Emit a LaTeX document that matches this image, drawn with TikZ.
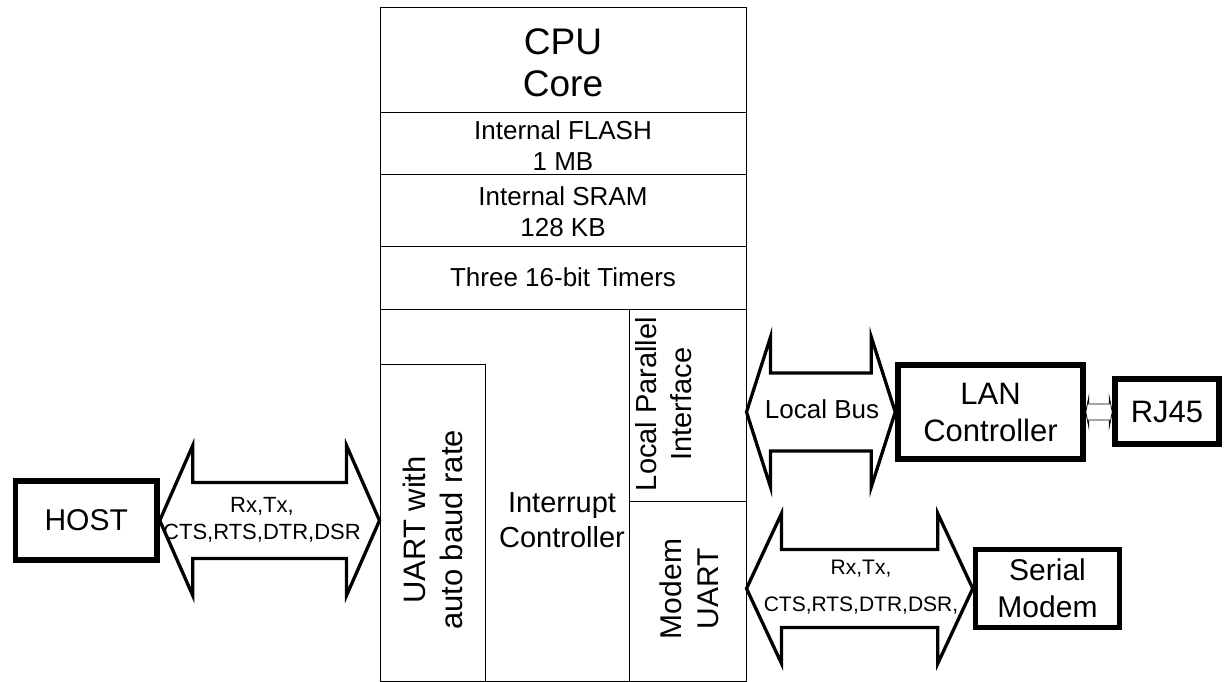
\documentclass[tikz,border=0pt]{standalone}
\usepackage{fontspec}
\setmainfont{Liberation Sans}
\usetikzlibrary{calc}

% Block arrow between two points: #1 style, #2 left tip, #3 right tip,
% #4 head length, #5 half height of the heads, #6 half height of the shaft
\newcommand\buspoly[6]{%
  \path[#1] let \p1=(#2), \p2=(#3) in
    (\x1,\y1) -- (\x1+#4,\y1+#5) -- (\x1+#4,\y1+#6) -- (\x2-#4,\y1+#6)
    -- (\x2-#4,\y1+#5) -- (\x2,\y1) -- (\x2-#4,\y1-#5) -- (\x2-#4,\y1-#6)
    -- (\x1+#4,\y1-#6) -- (\x1+#4,\y1-#5) -- cycle;}

\begin{document}
\begin{tikzpicture}[x=1pt,y=-1pt,
  part/.style={draw, line width=1pt, inner sep=0pt},
  ext/.style={draw, line width=5.5pt, inner sep=0pt, align=center},
  bus/.style={draw, line width=3.3pt, line join=miter, miter limit=20, fill=white},
  thinbus/.style={draw, line width=0.8pt, line join=miter, miter limit=20},
  txt/.style={inner sep=0pt, align=center},
  f37/.style={font=\fontsize{37}{42}\selectfont},
  f31/.style={font=\fontsize{31}{37}\selectfont},
  f30/.style={font=\fontsize{30}{37}\selectfont},
  f29/.style={font=\fontsize{29}{35}\selectfont},
  f26/.style={font=\fontsize{26}{31}\selectfont},
]
\fill[white] (0,0) rectangle (1225,682);
\useasboundingbox (0,0) rectangle (1225,682);

% ---- microcontroller column ----
\node[part, minimum width=366pt, minimum height=105pt]  (cpu)    at (563,60.5)  {};
\node[part, minimum width=366pt, minimum height=61pt]   (flash)  at (563,143.5) {};
\node[part, minimum width=366pt, minimum height=72pt]   (sram)   at (563,210)   {};
\node[part, minimum width=366pt, minimum height=63pt]   (timers) at (563,277.5) {};
\node[part, minimum width=366pt, minimum height=372.5pt] (periph) at (563,495.25) {};
\node[part, minimum width=105pt, minimum height=317.5pt] (uart)  at (432.5,522.75) {};
\node[part, minimum width=117pt, minimum height=192pt]  (lpi)    at (687.5,405) {};
\node[part, minimum width=117pt, minimum height=180.5pt] (muart) at (687.5,591.25) {};

\node[txt, f37] (cpu-t)    at (563,62.5)  {CPU\\Core};
\node[txt, f26] (flash-t)  at (563,146)   {Internal FLASH\\1 MB};
\node[txt, f26] (sram-t)   at (563,212)   {Internal SRAM\\128 KB};
\node[txt, f26] (timers-t) at (563,277.5) {Three 16-bit Timers};
\node[txt, f31, rotate=90] (uart-t)  at (432.5,530) {UART with\\auto baud rate};
\node[txt, f29] (intc-t)   at (562,520)   {Interrupt\\Controller};
\node[txt, f29, rotate=90] (lpi-t)   at (664,404)   {Local Parallel\\Interface};
\node[txt, f30, rotate=90] (muart-t) at (689,589)   {Modem\\UART};

% ---- external devices ----
\node[ext, f30, minimum width=141.5pt, minimum height=79pt] (host)  at (86.25,520.5) {HOST};
\node[ext, f31, minimum width=185pt,   minimum height=94pt] (lan)   at (990.5,412)   {LAN\\Controller};
\node[ext, f31, minimum width=104pt,   minimum height=65pt] (rj45)  at (1167,411.5)  {RJ45};
\node[ext, f30, minimum width=144pt,   minimum height=78pt] (modem) at (1047.5,588.5) {Serial\\Modem};

% ---- buses ----
\buspoly{bus}{host.east}{host.east -| uart.west}{33pt}{75pt}{38pt}
\buspoly{bus}{lan.west -| lpi.east}{lan.west}{24pt}{75pt}{39pt}
\buspoly{bus}{modem.west -| muart.east}{modem.west}{35pt}{75pt}{39pt}
\buspoly{thinbus}{lan.east}{lan.east -| rj45.west}{3pt}{15pt}{8pt}

\node[txt, font=\fontsize{22}{27}\selectfont] (hostbus-t) at (262,520) {Rx,Tx,\\CTS,RTS,DTR,DSR};
\node[txt, f26] (localbus-t) at (822,409) {Local Bus};
\node[txt, font=\fontsize{21}{37}\selectfont] (modembus-t) at (861,587) {Rx,Tx,\\CTS,RTS,DTR,DSR,};
\end{tikzpicture}
\end{document}
